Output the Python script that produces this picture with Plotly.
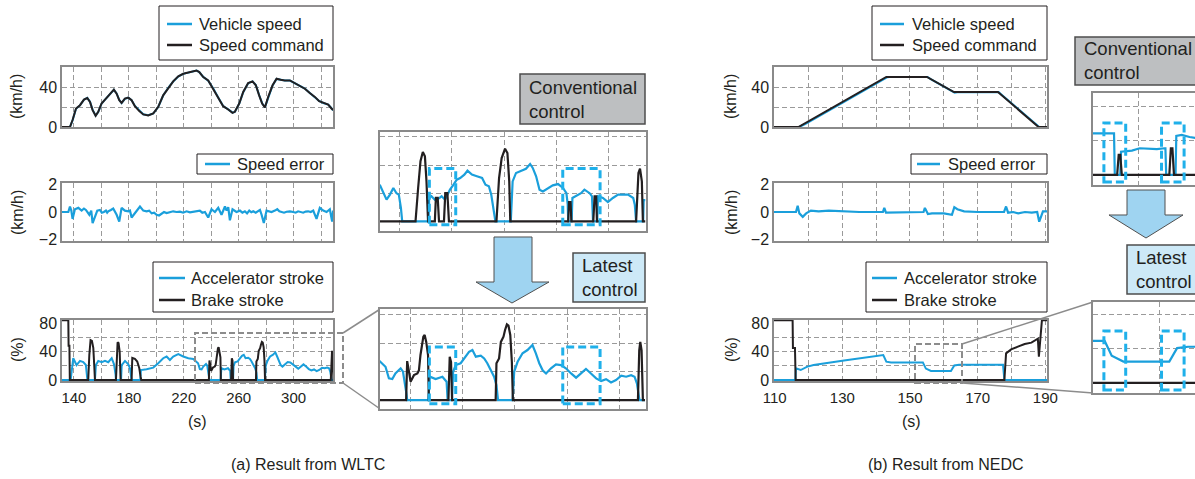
import plotly.graph_objects as go

# ======================= DATA =======================
# ---- (a) WLTC ----
wltc_ticks = [140, 180, 220, 260, 300]
wltc_grid_x = [140, 160, 180, 200, 220, 240, 260, 280, 300, 320]

wltc_speed_t = [
    131.3, 137.1, 139.0, 141.5, 144.4, 147.3, 149.7, 151.7, 153.6, 155.8,
    157.7, 160.1, 163.3, 166.2, 169.1, 171.1, 173.0, 174.7, 177.1, 179.6,
    182.0, 184.4, 187.6, 190.5, 194.1, 197.8, 201.4, 205.0, 208.7, 212.3,
    216.0, 219.6, 223.3, 226.9, 229.3, 231.3, 234.2, 237.8, 241.5, 245.1,
    248.7, 252.4, 255.5, 257.2, 260.4, 263.3, 266.9, 270.1, 272.5, 274.9,
    277.1, 279.1, 281.5, 284.7, 287.6, 290.5, 293.6, 297.3, 300.9, 304.6,
    308.2, 311.8, 315.5, 318.6, 321.6, 325.2, 327.6, 328.8]
wltc_speed_cmd = [
    0, 0, 7, 18.5, 21.8, 27.4, 29, 25, 16.9, 11.2,
    15.2, 23.5, 28.4, 32.7, 37.4, 33.4, 26.8, 24.1, 28.4, 29.4,
    26.8, 20.8, 15.9, 12.6, 11.6, 13.6, 20.2, 31.7, 39.3, 45.6,
    50.6, 53.2, 54.5, 55.5, 56.5, 54.9, 49.9, 46.6, 38.3, 29.4,
    20.8, 17.5, 14.2, 15.2, 23.5, 35, 44, 45.6, 41.7, 31.7,
    23.5, 19.5, 30.1, 41.7, 48.3, 47.3, 46.6, 46.6, 44, 40.7,
    38.3, 34, 30.1, 25.8, 24.1, 22.5, 18.5, 16.9]
wltc_speed_veh = [
    0, 0, 6.6, 18.3, 21.6, 27.3, 29.1, 25.3, 17.3, 11.4,
    15.0, 23.3, 28.3, 32.6, 37.2, 33.6, 27.2, 24.0, 28.2, 29.3,
    26.9, 21.0, 16.1, 12.7, 11.7, 13.5, 20.0, 31.5, 39.2, 45.5,
    50.5, 53.1, 54.4, 55.4, 56.4, 55.0, 50.1, 46.4, 38.6, 29.6,
    21.0, 17.6, 14.4, 15.0, 23.3, 34.8, 43.8, 45.6, 41.9, 32.0,
    23.8, 19.7, 29.9, 41.5, 48.1, 47.3, 46.6, 46.5, 44.1, 40.8,
    38.4, 34.1, 30.2, 26.0, 24.0, 22.4, 18.8, 16.7]

wltc_err_t = [
    131.3, 135.9, 137.1, 138.1, 139.0, 140.7, 143.2, 145.6, 147.3, 148.7,
    151.2, 152.6, 153.6, 155.3, 157.0, 158.9, 160.3, 161.8, 163.3, 164.2,
    165.0, 166.9, 168.6, 171.1, 173.0, 174.7, 175.9, 177.1, 179.6, 180.8,
    182.0, 184.4, 186.1, 188.1, 190.5, 192.9, 194.8, 196.6, 198.4, 200.2,
    202.0, 203.8, 205.6, 207.5, 209.9, 212.3, 214.8, 217.2, 219.6, 222.0,
    224.5, 226.9, 229.3, 231.7, 233.5, 235.4, 237.8, 240.2, 242.7, 245.1,
    247.5, 250.0, 251.2, 252.4, 253.6, 255.5, 258.4, 260.9, 262.7, 264.5,
    266.1, 267.7, 269.2, 270.6, 272.4, 274.2, 275.5, 276.7, 278.3, 280.3,
    283.9, 286.4, 288.1, 289.6, 291.2, 293.0, 294.9, 297.3, 299.7, 301.5,
    303.3, 305.2, 307.0, 308.8, 310.6, 312.5, 314.3, 316.7, 319.1, 321.6,
    324.0, 326.4, 328.1, 328.8]
wltc_err = [
    0, 0, 0.4, 0.1, -0.5, 0.2, 0.3, 0.1, 0.25, 0.15,
    -0.2, 0.1, -0.8, -0.3, 0.1, 0.15, -0.05, 0.0, 0.1, -0.05,
    0.05, 0.15, 0.25, -0.2, -0.7, 0.3, 0.2, 0.1, 0.05, 0.1,
    -0.4, -0.1, 0.1, 0.4, 0.1, 0.05, 0.1, -0.1, -0.05, -0.2,
    -0.25, -0.1, 0.0, -0.08, -0.02, 0.05, 0.0, 0.03, -0.05, 0.05,
    -0.03, 0.0, 0.05, 0.1, -0.05, 0.0, -0.4, 0.2, 0.0, 0.3,
    -0.2, 0.4, 0.1, 0.35, -0.6, 0.2, 0.0, 0.1, -0.05, 0.05,
    -0.1, 0.1, -0.02, 0.05, -0.05, 0.1, 0.15, -0.2, -0.8, 0.1,
    0.0, 0.1, 0.2, 0.05, 0.0, -0.05, 0.02, 0.05, 0.0, -0.05,
    0.05, 0.0, -0.05, 0.03, 0.05, 0.0, 0.1, -0.5, 0.3, 0.1,
    0.0, 0.2, -0.7, 0.1]

wltc_acc_t = [
    131.3, 137.6, 139.5, 141.9, 144.4, 146.8, 148.7, 149.5, 149.8, 155.3,
    156.0, 157.7, 160.2, 162.6, 165.0, 167.5, 169.2, 170.3, 170.6, 174.3,
    174.8, 177.2, 179.6, 180.8, 182.0, 188.3, 188.8, 192.9, 197.8, 201.4,
    205.0, 207.5, 209.9, 212.3, 216.0, 219.6, 223.3, 226.9, 228.5, 230.4,
    231.7, 233.0, 234.2, 236.2, 237.1, 237.8, 238.5, 238.7, 246.8, 247.4,
    249.6, 252.2, 253.8, 254.2, 255.9, 256.3, 257.3, 259.2, 260.5, 262.4,
    263.7, 265.0, 266.9, 268.2, 269.4, 270.7, 272.0, 272.9, 273.5, 279.1,
    279.7, 281.0, 282.9, 284.8, 286.7, 288.0, 289.3, 290.6, 291.9, 293.8,
    295.7, 297.6, 299.5, 301.5, 303.4, 305.3, 307.2, 309.1, 311.1, 313.0,
    314.9, 316.8, 318.7, 320.7, 322.6, 324.5, 325.8, 326.7, 327.7, 329.8]
wltc_acc = [
    0, 0, 30.6, 21, 26.8, 25, 21, 10, 0, 0,
    21, 26.8, 25, 26.8, 25, 30.6, 22, 8, 0, 0,
    21, 26.8, 22, 16.5, 0, 0, 14, 15, 17.4, 23.5,
    30.6, 33, 28, 33, 36.2, 33, 30.6, 29.6, 27, 23.5,
    15.3, 14.8, 18.8, 22.4, 20, 13, 3.5, 0, 0, 16.5,
    14.8, 16.5, 13, 0, 0, 20, 24.7, 26, 29.4, 34,
    35.3, 30.6, 31.3, 29.4, 26, 21, 16.5, 10.6, 0, 0,
    20, 27, 33, 35.3, 38.8, 33, 26, 21, 18.8, 22.4,
    25.2, 24.7, 22.4, 18.8, 15.8, 18.8, 21.9, 18.8, 15.3, 13.4,
    14.8, 12.5, 14.1, 17.2, 16.5, 17.6, 16.5, 11.8, 0, 0]

wltc_brk_t = [
    131.3, 135.9, 136.1, 136.7, 137.0, 150.4, 151.2, 152.1, 153.1, 154.1,
    154.8, 155.3, 170.6, 171.3, 171.8, 172.5, 173.3, 174.0, 182.0, 182.5,
    184.4, 186.1, 187.6, 188.5, 189.0, 238.3, 238.7, 239.4, 240.0, 241.3,
    242.6, 243.2, 243.8, 244.9, 245.4, 246.0, 246.7, 247.0, 254.5, 255.0,
    255.5, 255.9, 272.6, 272.9, 273.9, 274.6, 275.6, 276.2, 276.9, 277.5,
    278.2, 278.8, 279.2, 327.1, 327.6, 328.0, 328.5, 329.0, 329.8]
wltc_brk = [
    84, 84, 48, 48, 0, 0, 35, 56, 55, 45,
    20, 0, 0, 40, 53, 52, 40, 0, 0, 31,
    29.6, 26, 16.5, 5, 0, 0, 27.5, 20, 13, 17.6,
    18.8, 21, 31.8, 44.7, 45.9, 41, 31.8, 0, 0, 30.6,
    27, 0, 0, 25.9, 29.4, 41, 44.7, 49.4, 53.4, 52.5,
    45.9, 27, 0, 0, 35, 41, 35, 0, 0]

# conventional control (inset, WLTC 228-330 s)
wltc_conv_acc_t = [
    228.2, 229.5, 230.8, 232.1, 233.4, 234.6, 235.5, 236.3, 236.8, 246.9,
    247.1, 248.0, 249.3, 250.6, 251.9, 253.2, 254.1, 255.1, 256.4, 257.7,
    259.0, 260.6, 261.8, 263.5, 265.4, 267.4, 268.7, 270.0, 270.9, 271.7,
    272.5, 278.4, 279.1, 280.4, 282.3, 284.2, 285.8, 286.8, 288.1, 289.4,
    290.7, 292.6, 294.5, 296.5, 298.4, 299.7, 300.2, 300.4, 301.7, 302.0,
    303.4, 305.3, 306.6, 308.6, 309.5, 309.9, 311.5, 311.8, 313.7, 315.6,
    317.5, 319.5, 321.4, 323.3, 325.3, 325.9, 326.4, 329.1, 329.3, 330.0]
wltc_conv_acc = [
    26, 20, 15.4, 19, 23.7, 20, 19, 9.5, 0, 0,
    16.6, 17.8, 15.4, 16, 17.8, 15.4, 19, 22.5, 26, 29.6,
    30.8, 33.2, 36, 33.2, 32, 30.8, 26, 24.9, 19, 9.5,
    0, 0, 28.4, 34.4, 36, 37.4, 40.8, 38, 32, 22.5,
    21.3, 23.7, 25.6, 26.5, 23.7, 20, 12, 0, 0, 16.6,
    17.8, 20, 22.5, 20, 17.8, 0, 0, 17.8, 16.6, 13.7,
    16.6, 19, 19, 19, 16.6, 11.8, 0, 0, 15, 15]
wltc_conv_brk_t = [
    228.2, 241.9, 242.9, 243.8, 244.7, 245.5, 246.1, 246.7, 249.3, 249.7,
    250.4, 250.9, 252.8, 253.3, 254.1, 254.7, 272.9, 273.9, 274.9, 276.2,
    277.1, 277.8, 278.2, 300.4, 300.7, 301.3, 301.6, 310.0, 310.5, 311.1,
    311.4, 326.4, 327.3, 327.9, 328.6, 329.0, 330.0]
wltc_conv_brk = [
    0, 0, 23.7, 42.7, 49.3, 46.2, 28.4, 0, 0, 16.6,
    16.6, 0, 0, 20, 20, 0, 0, 30.8, 45, 51.7,
    48.6, 28.4, 0, 0, 13.7, 13.7, 0, 0, 17.8, 17.8,
    0, 0, 34.4, 37.4, 28.4, 0, 0]

# ---- (b) NEDC ----
nedc_ticks = [110, 130, 150, 170, 190]
nedc_grid_x = [110, 120, 130, 140, 150, 160, 170, 180, 190]

nedc_cmd_t = [109.8, 117.0, 143.0, 155.0, 163.0, 176.0, 188.0, 190.5]
nedc_cmd = [0, 0, 50, 50, 35, 35, 0, 0]
nedc_veh_t = [109.8, 117.3, 119.0, 143.2, 144.0, 155.2, 156.0, 163.2, 164.0,
              176.2, 177.0, 188.2, 189.0, 190.5]
nedc_veh = [0, 0, 3.0, 49.7, 50, 50, 48.2, 34.4, 34.8, 35, 32.6, 0, 0, 0]

nedc_err_t = [
    109.8, 116.3, 116.8, 117.3, 118.3, 119.3, 120.7, 123.0, 126.0, 130.0,
    135.0, 142.0, 142.4, 142.9, 145.0, 150.0, 154.0, 154.4, 155.3, 156.5,
    158.0, 160.0, 162.4, 163.1, 164.0, 166.0, 170.0, 177.8, 178.4, 179.0,
    180.5, 182.0, 184.0, 186.0, 187.6, 188.2, 188.8, 189.3, 190.5]
nedc_err = [
    0, 0, 0.45, -0.1, -0.35, -0.1, 0.1, 0.05, 0.1, 0.05,
    0.0, 0.0, 0.3, -0.05, -0.05, 0.0, 0.0, 0.3, -0.15, -0.1,
    -0.1, -0.1, -0.2, 0.35, 0.2, 0.05, 0.0, 0.0, 0.4, -0.05,
    0.0, -0.1, 0.0, -0.05, 0.0, -0.7, -0.3, 0.05, 0.05]

nedc_acc_t = [109.8, 116.1, 116.3, 117.7, 119.5, 121.5, 130.5, 141.5, 142.1, 143.0,
              144.4, 153.8, 154.7, 156.2, 162.1, 163.1, 164.5, 177.5, 177.9, 190.5]
nedc_acc = [0, 0, 16.4, 14, 18.5, 21, 27.5, 35.5, 35, 25.7,
            24.7, 24.7, 16, 12.6, 12.6, 20.5, 21.3, 21.3, 0, 0]
nedc_brk_t = [109.8, 115.3, 115.4, 116.0, 116.2, 177.9, 178.4, 179.9, 181.9, 183.9,
              185.9, 187.3, 187.8, 188.1, 188.5, 189.0, 190.5]
nedc_brk = [84, 84, 45, 45, 0, 0, 37.4, 43, 46.8, 50.5,
            52.4, 56, 58, 32.7, 58, 84, 84]

# conventional control (inset, NEDC 152-166 s)
nedc_conv_acc_t = [151.5, 155.0, 155.1, 155.8, 155.9, 157.3, 158.3, 159.5, 160.5,
                   161.5, 161.6, 161.7, 162.9, 163.0, 163.7, 164.7, 165.6]
nedc_conv_acc = [24.5, 24.5, 0, 0, 13.7, 14.3, 15.7, 15.4, 15.2,
                 15.7, 15.7, 0, 0, 22.9, 23.5, 22.3, 21.6]
nedc_conv_brk_t = [151.5, 155.4, 155.6, 155.8, 156.0, 162.1, 162.3, 162.5, 162.7, 165.6]
nedc_conv_brk = [0, 0, 11.8, 11.8, 0, 0, 15.7, 15.7, 0, 0]

# highlighted regions in insets: (t0, t1) and stroke band (%)
wltc_boxes = [(247.2, 257.3), (298.3, 312.6)]
nedc_boxes = [(153.7, 156.5), (161.1, 164.0)]
box_band = (-2.5, 37.5)
nedc_box_band = (-4.1, 30.6)

# legend labels
speed_names = ["Vehicle speed", "Speed command"]
error_names = ["Speed error"]
stroke_names = ["Accelerator stroke", "Brake stroke"]

# ======================= STYLE =======================
W, H = 1195, 479
CYAN = "#1a9fdb"
INK = "#231f20"
GRID = "#9a9a9a"
FRAME = "#8a8a8a"
FONT = "Liberation Sans, Arial, Helvetica, sans-serif"


def px(x):
    return x / W


def py(y):
    return 1 - y / H


def xdom(a, b):
    return [max(0.0, px(a)), min(1.0, px(b))]


def ydom(top, bottom):
    return [max(0.0, py(bottom)), min(1.0, py(top))]


fig = go.Figure()


def line(n, x, y, color, width=2.0):
    sfx = "" if n == 1 else str(n)
    fig.add_trace(go.Scatter(
        x=x, y=y, mode="lines", line=dict(color=color, width=width),
        xaxis="x" + sfx, yaxis="y" + sfx, showlegend=False, hoverinfo="skip"))


line(1, wltc_speed_t, wltc_speed_veh, CYAN)
line(1, wltc_speed_t, wltc_speed_cmd, INK)
line(2, wltc_err_t, wltc_err, CYAN, 2.2)
line(3, wltc_acc_t, wltc_acc, CYAN)
line(3, wltc_brk_t, wltc_brk, INK)
line(4, wltc_conv_acc_t, wltc_conv_acc, CYAN, 2.2)
line(4, wltc_conv_brk_t, wltc_conv_brk, INK, 2.2)
line(5, wltc_acc_t, wltc_acc, CYAN, 2.2)
line(5, wltc_brk_t, wltc_brk, INK, 2.2)
line(6, nedc_veh_t, nedc_veh, CYAN)
line(6, nedc_cmd_t, nedc_cmd, INK)
line(7, nedc_err_t, nedc_err, CYAN, 2.2)
line(8, nedc_acc_t, nedc_acc, CYAN)
line(8, nedc_brk_t, nedc_brk, INK)
line(9, nedc_conv_acc_t, nedc_conv_acc, CYAN, 2.2)
line(9, nedc_conv_brk_t, nedc_conv_brk, INK, 2.2)
line(10, nedc_acc_t, nedc_acc, CYAN, 2.2)
line(10, nedc_brk_t, nedc_brk, INK, 2.2)

DASH = "5px,3px"


def axis(dom, rng, anchor, tickvals=None, ticktext=None, grid=None,
         minor_grid=None, mirror=True, lw=1.5, labels=True, fsize=16):
    d = dict(domain=dom, range=rng, anchor=anchor, showline=True,
             linecolor=FRAME, linewidth=lw, mirror=mirror, ticks="",
             zeroline=False, fixedrange=True, showgrid=False, automargin=False,
             tickfont=dict(family=FONT, size=fsize, color=INK))
    if tickvals is not None:
        d.update(tickmode="array", tickvals=tickvals)
        if ticktext is not None:
            d["ticktext"] = ticktext
    d["showticklabels"] = bool(labels and tickvals is not None)
    if grid:
        d.update(showgrid=True, gridcolor=GRID, gridwidth=1, griddash=DASH)
    if minor_grid:
        d["minor"] = dict(tickmode="array", tickvals=minor_grid, showgrid=True,
                          gridcolor=GRID, gridwidth=1, griddash=DASH, ticks="")
    return d


def xlabels(grid_vals, shown):
    return [str(v) if v in shown else "" for v in grid_vals]


WX = [131.3, 328.7]
NX = [109.8, 190.5]
WXD = xdom(62, 333)
NXD = xdom(774, 1047)
SPEED_D = ydom(67, 127)
ERR_D = ydom(183, 241)
STROKE_D = ydom(320, 381)

lay = {}
lay["xaxis"] = axis(WXD, WX, "y", wltc_grid_x, grid=True, labels=False)
lay["yaxis"] = axis(SPEED_D, [0, 60], "x", [0, 40], ["0", "40"], minor_grid=[20, 40])
lay["xaxis2"] = axis(WXD, WX, "y2", wltc_grid_x, grid=True, labels=False)
lay["yaxis2"] = axis(ERR_D, [-2.1, 2.1], "x2", [-2, 0, 2], ["\u22122", "0", "2"])
lay["xaxis3"] = axis(WXD, WX, "y3", wltc_grid_x, xlabels(wltc_grid_x, wltc_ticks), grid=True,
                     fsize=15)
lay["yaxis3"] = axis(STROKE_D, [-1.4, 84.2], "x3", [0, 40, 80], ["0", "40", "80"],
                     minor_grid=[20, 40, 60])
INS_X = [228.1, 330.0]
lay["xaxis4"] = axis(xdom(379.5, 645.5), INS_X, "y4", [235.8, 255.8, 275.8, 295.8, 315.8],
                     grid=True, labels=False, lw=2)
lay["yaxis4"] = axis(ydom(131.5, 231), [-6.9, 63.9], "x4", [20, 40, 60], grid=True,
                     labels=False, lw=2)
lay["xaxis5"] = axis(xdom(379.5, 645.5), INS_X, "y5", [240, 260, 280, 300, 320],
                     grid=True, labels=False, lw=2)
lay["yaxis5"] = axis(ydom(309, 408.5), [-5.9, 64.2], "x5", [20, 40, 60], grid=True,
                     labels=False, lw=2)
lay["xaxis6"] = axis(NXD, NX, "y6", nedc_grid_x, grid=True, labels=False)
lay["yaxis6"] = axis(SPEED_D, [0, 60], "x6", [0, 40], ["0", "40"], minor_grid=[20, 40])
lay["xaxis7"] = axis(NXD, NX, "y7", nedc_grid_x, grid=True, labels=False)
lay["yaxis7"] = axis(ERR_D, [-2.1, 2.1], "x7", [-2, 0, 2], ["\u22122", "0", "2"])
lay["xaxis8"] = axis(NXD, NX, "y8", nedc_grid_x, xlabels(nedc_grid_x, nedc_ticks), grid=True,
                     fsize=15)
lay["yaxis8"] = axis(STROKE_D, [-1.4, 84.2], "x8", [0, 40, 80], ["0", "40", "80"],
                     minor_grid=[20, 40, 60])
NINS_X = [152.3, 165.4]            # NEDC insets, cut by the right page edge
lay["xaxis9"] = axis(xdom(1093, W), NINS_X, "y9", [158.1], grid=True, labels=False, lw=2)
lay["yaxis9"] = axis(ydom(93, 185), [-5.9, 48.2], "x9", [20, 40], grid=True,
                     labels=False, lw=2, mirror=False)
lay["xaxis10"] = axis(xdom(1093, W), NINS_X, "y10", [160.9], grid=True, labels=False, lw=2)
lay["yaxis10"] = axis(ydom(302, 393), [-5.9, 47.6], "x10", [20, 40], grid=True,
                      labels=False, lw=2, mirror=False)
for k in ("xaxis3", "xaxis8"):
    lay[k]["ticklabelstandoff"] = 2

# ---------------- shapes ----------------
shapes = []
ann = []


def ppath(pts):
    return "M" + " L".join(f"{px(x):.5f},{py(y):.5f}" for x, y in pts) + " Z"


def prect(x0, y0, x1, y1, **kw):
    d = dict(type="rect", xref="paper", yref="paper", x0=px(x0), x1=px(x1),
             y0=py(y1), y1=py(y0), layer="above")
    d.update(kw)
    return d


def pline(x0, y0, x1, y1, **kw):
    d = dict(type="line", xref="paper", yref="paper", x0=px(x0), y0=py(y0),
             x1=px(x1), y1=py(y1), layer="above")
    d.update(kw)
    return d


def text(x, y, s, size=16, angle=0, xanchor="center", align="center"):
    ann.append(dict(x=px(x), y=py(y), xref="paper", yref="paper", text=s,
                    showarrow=False, textangle=angle, xanchor=xanchor, yanchor="middle",
                    align=align, font=dict(family=FONT, size=size, color=INK)))


def legend_box(x0, y0, x1, y1, names, colors, ys, lx0, lx1, tx):
    shapes.append(prect(x0, y0, x1, y1, fillcolor="white", line=dict(color=INK, width=1)))
    for name, col, yy in zip(names, colors, ys):
        shapes.append(pline(lx0, yy, lx1, yy, line=dict(color=col, width=2.5)))
        text(tx, yy, name, size=16.5, xanchor="left", align="left")


legend_box(159, 6, 333, 60, speed_names, [CYAN, INK], [24, 45], 167, 192, 197)
legend_box(197, 154, 333, 174, error_names, [CYAN], [164], 205, 230, 235)
legend_box(153, 262, 333, 312, stroke_names, [CYAN, INK], [278, 300], 159, 185, 189)
legend_box(872, 6, 1047, 60, speed_names, [CYAN, INK], [24, 45], 880, 904, 910)
legend_box(911, 154, 1047, 174, error_names, [CYAN], [164], 917, 940, 946)
legend_box(866, 262, 1047, 312, stroke_names, [CYAN, INK], [278, 300], 872, 897, 902)

GRAYLINE = dict(color="#8c8c8c", width=1.5)
shapes.append(prect(195, 333, 343, 383, line=dict(color="#8c8c8c", width=2, dash="6px,3px")))
shapes.append(pline(343, 333, 379.5, 309.5, line=GRAYLINE))
shapes.append(pline(343, 383, 379.5, 408.5, line=GRAYLINE))
shapes.append(prect(915, 344, 962, 383, line=dict(color="#8c8c8c", width=2, dash="6px,3px")))
shapes.append(pline(962, 344, 1093, 302, line=GRAYLINE))
shapes.append(pline(962, 383, 1093, 393, line=GRAYLINE))

ARROW = dict(type="path", xref="paper", yref="paper", fillcolor="#9fd4f1",
             line=dict(color="#505050", width=1), layer="above")
shapes.append(dict(ARROW, path=ppath([(494, 237), (532, 237), (532, 282), (549, 282),
                                      (512, 303), (476, 282), (494, 282)])))
shapes.append(dict(ARROW, path=ppath([(1127, 190), (1165, 190), (1165, 215), (1183, 215),
                                      (1146, 238), (1109, 215), (1127, 215)])))

shapes.append(prect(520, 74, 645, 124, fillcolor="#bdbfc1", line=dict(color="#4d4d4d", width=1.5)))
shapes.append(prect(573, 253, 645, 302, fillcolor="#cde9f7", line=dict(color="#4d4d4d", width=1.5)))
shapes.append(prect(1075, 37, 1200, 85, fillcolor="#bdbfc1", line=dict(color="#4d4d4d", width=1.5)))
shapes.append(prect(1127, 245, 1200, 294, fillcolor="#cde9f7", line=dict(color="#4d4d4d", width=1.5)))

HBOX = dict(color="#1fb0ea", width=3, dash="8px,4px")
for ax in ("4", "5"):
    for t0, t1 in wltc_boxes:
        shapes.append(dict(type="rect", xref="x" + ax, yref="y" + ax, x0=t0, x1=t1,
                           y0=box_band[0], y1=box_band[1], line=HBOX, layer="above"))
for ax in ("9", "10"):
    for t0, t1 in nedc_boxes:
        shapes.append(dict(type="rect", xref="x" + ax, yref="y" + ax, x0=t0, x1=t1,
                           y0=nedc_box_band[0], y1=nedc_box_band[1], line=HBOX, layer="above"))

for xc in (17, 731):
    text(xc, 97, "(km/h)", angle=-90)
    text(xc, 213, "(km/h)", angle=-90)
    text(xc, 350, "(%)", angle=-90)
text(197, 421, "(s)")
text(911, 421, "(s)")
text(308, 464, "(a) Result from WLTC")
text(946, 464, "(b) Result from NEDC")
text(527, 99, "Conventional<br>control", size=18.5, xanchor="left", align="left")
text(580, 277.5, "Latest<br>control", size=18.5, xanchor="left", align="left")
text(1082, 61, "Conventional<br>control", size=18.5, xanchor="left", align="left")
text(1134, 269.5, "Latest<br>control", size=18.5, xanchor="left", align="left")

fig.update_layout(
    width=W, height=H, margin=dict(l=0, r=0, t=0, b=0, pad=0, autoexpand=False),
    paper_bgcolor="white", plot_bgcolor="white",
    font=dict(family=FONT, size=16, color=INK),
    shapes=shapes, annotations=ann, showlegend=False,
    **lay)

# the page's default body margin would push the 1195x479 figure out of the window
fig.write_html(
    "out.html", include_plotlyjs=True, config={"displayModeBar": False},
    post_script="document.body.style.margin='0';"
                "document.documentElement.style.overflow='hidden';"
                "document.body.style.overflow='hidden';")
